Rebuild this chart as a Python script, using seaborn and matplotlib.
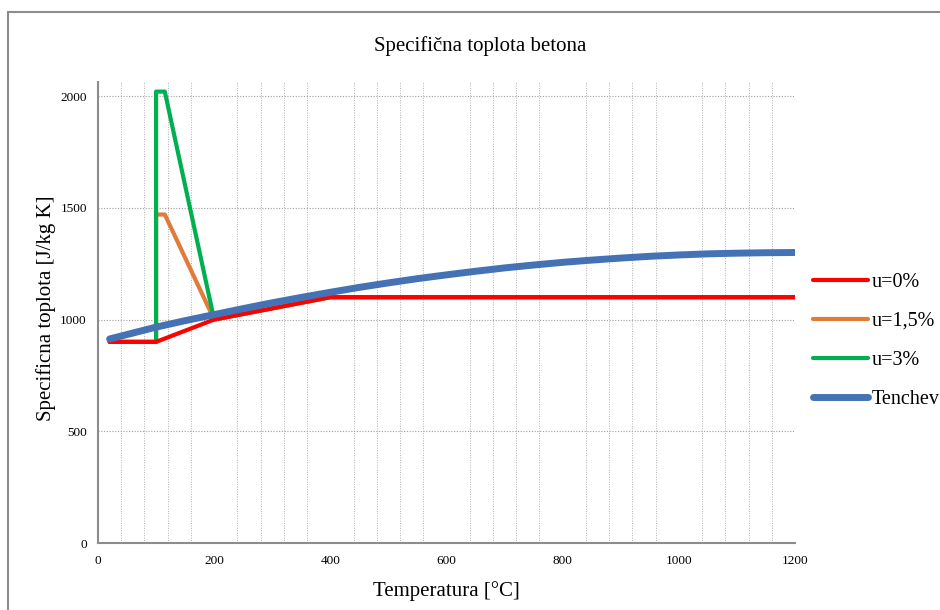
import matplotlib
matplotlib.use("Agg")
import matplotlib.pyplot as plt
import seaborn as sns
import numpy as np
from matplotlib.patches import Rectangle

sns.set_theme(style="white")
plt.rcParams['font.family'] = ['Liberation Serif', 'DejaVu Serif']
plt.rcParams['text.color'] = 'black'
plt.rcParams['axes.labelcolor'] = 'black'

# Data
t_u0 = [20, 100, 200, 400, 1200]
c_u0 = [900, 900, 1000, 1100, 1100]

t_u15 = [20, 100, 100, 115, 200, 400, 1200]
c_u15 = [900, 900, 1470, 1470, 1000, 1100, 1100]

t_u3 = [20, 100, 100, 115, 200, 400, 1200]
c_u3 = [900, 900, 2020, 2020, 1000, 1100, 1100]

t_ten = [20, 50, 100, 150, 200, 250, 300, 350, 400, 450, 500, 550, 600, 650, 700,
         750, 800, 850, 900, 950, 1000, 1050, 1100, 1150, 1200]
c_ten = [913, 933, 966, 995, 1022, 1049, 1075, 1099, 1122, 1144, 1164, 1183, 1200,
         1216, 1231, 1244, 1256, 1266, 1275, 1283, 1289, 1294, 1297, 1299, 1300]

labels = ["u=0%", "u=1,5%", "u=3%", "Tenchev"]
colors = ["#FF0000", "#E07B39", "#00B050", "#4472B4"]
widths = [3.0, 3.0, 3.0, 5.0]
zorders = [4, 2, 3, 5]

fig = plt.figure(figsize=(9.4, 6.1), dpi=100)
ax = fig.add_axes([98/940, 67/610, 697/940, 461/610])

series = [(t_u0, c_u0), (t_u15, c_u15), (t_u3, c_u3), (t_ten, c_ten)]
for (x, y), lab, col, lw, z in zip(series, labels, colors, widths, zorders):
    sns.lineplot(x=x, y=y, ax=ax, color=col, linewidth=lw, label=lab, zorder=z,
                 estimator=None, sort=False, solid_capstyle='round', solid_joinstyle='round')

ax.set_xlim(0, 1200)
ax.set_ylim(0, 2063)
ax.set_xticks(range(0, 1201, 200))
ax.set_xticks(range(0, 1201, 40), minor=True)
ax.set_yticks(range(0, 2001, 500))
ax.grid(False)
ax.xaxis.grid(True, which='minor', linestyle=(0, (1, 1.5)), color='#B0B0B0', linewidth=0.7)
ax.yaxis.grid(True, which='major', linestyle=(0, (1, 1.5)), color='#A0A0A0', linewidth=0.8)
ax.set_axisbelow(True)
ax.tick_params(axis='both', which='both', length=0, labelsize=9.5, colors='black')
ax.tick_params(axis='x', pad=9)
ax.tick_params(axis='y', pad=8)
for s in ['top', 'right']:
    ax.spines[s].set_visible(False)
for s in ['left', 'bottom']:
    ax.spines[s].set_color('#8C8C8C')
    ax.spines[s].set_linewidth(1.5)

fig.text(480/940, 1 - 46/610, "Specifična toplota betona", fontsize=15,
         ha='center', va='center')
ax.set_xlabel("Temperatura [°C]", fontsize=15, labelpad=10)
ax.set_ylabel("Specificna toplota [J/kg K]", fontsize=15)
ax.yaxis.set_label_coords((56 - 98) / 697, (543 - 308) / 461)

ax.get_legend().remove()
handles, labs = ax.get_legend_handles_labels()
fig.legend(handles, labs, loc='upper left', bbox_to_anchor=(805/940, 1 - 265/610),
           frameon=False, fontsize=14.5, handlelength=2.75, handletextpad=0.15,
           labelspacing=0.98, borderaxespad=0)

# outer chart border
fig.patches.append(Rectangle((8/940, -0.05), 1.1, 1 - 12/610 + 0.05, transform=fig.transFigure,
                             fill=False, edgecolor='#8C8C8C', linewidth=1.5, zorder=0))

fig.savefig("out.png", dpi=100)
